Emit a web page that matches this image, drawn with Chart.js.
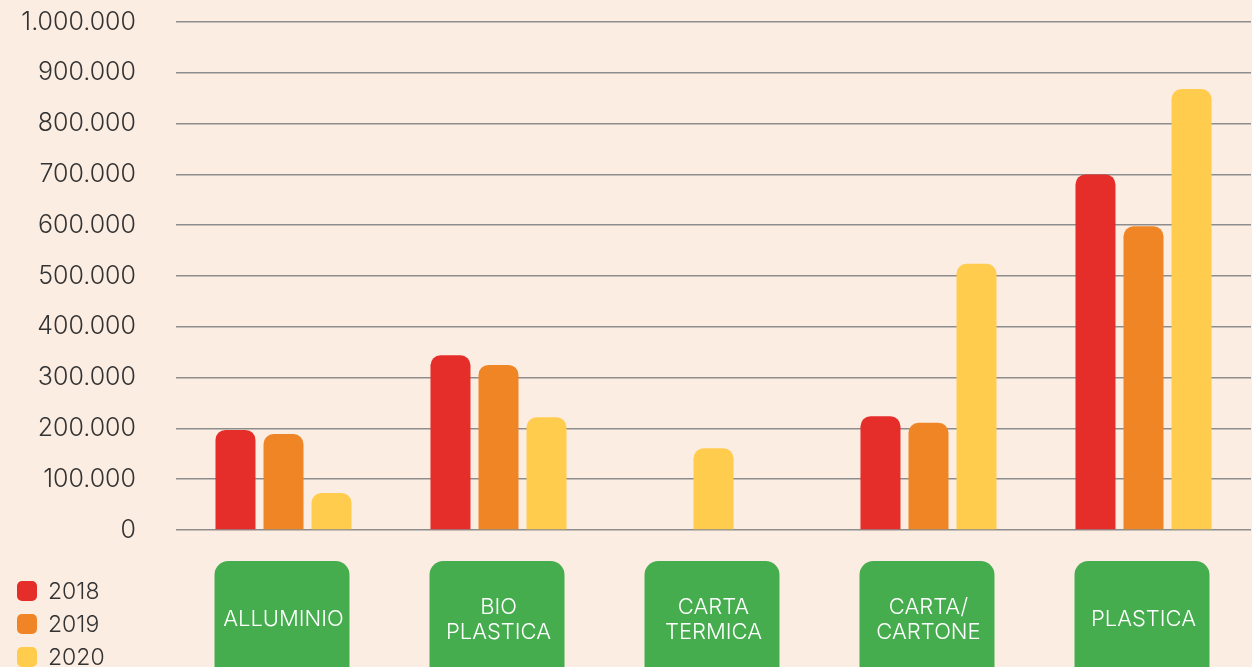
<!DOCTYPE html>
<html>
<head>
<meta charset="utf-8">
<script src="https://cdn.jsdelivr.net/npm/chart.js@4"></script>
<style>
body { margin: 0; background: #fcede3; }
#wrap { position: relative; width: 1252px; height: 667px; }
#legend { position: absolute; left: 17px; top: 574px; font-family: Inter, sans-serif; font-size: 23px; font-weight: 300; color: #333; }
.item { display: flex; align-items: center; height: 33px; }
.sw { width: 20px; height: 20px; border-radius: 5px; margin-right: 11px; }
</style>
</head>
<body>
<div id="wrap">
  <canvas id="bar-chart"></canvas>
  <div id="legend"></div>
</div>
<script>
//data
var categories = [['ALLUMINIO'], ['BIO', 'PLASTICA'], ['CARTA', 'TERMICA'], ['CARTA/', 'CARTONE'], ['PLASTICA']];
var years = ['2018', '2019', '2020'];
var values2018 = [197000, 344000, null, 224000, 700000];
var values2019 = [189000, 325000, null, 211000, 598000];
var values2020 = [73000, 222000, 161000, 524000, 868000];
var colors = ['#e52d2a', '#f08526', '#ffcc4d'];

var font = 'Inter, sans-serif';

//thousands with dots
function fmt(v) {
    return String(v).replace(/\B(?=(\d{3})+(?!\d))/g, '.');
}

//green boxes behind category labels
var labelBoxes = {
    id: 'labelBoxes',
    beforeDraw: function(chart) {
        var ctx = chart.ctx;
        var x = chart.scales.x;
        ctx.save();
        ctx.fillStyle = '#46ad4e';
        x.ticks.forEach(function(t, i) {
            var cx = x.getPixelForTick(i);
            ctx.beginPath();
            ctx.roundRect(cx - 69, chart.chartArea.bottom + 31, 135, 200, 14);
            ctx.fill();
        });
        ctx.restore();
    }
};

var ctx = document.getElementById('bar-chart');

var myChart = new Chart(ctx, {
    type: 'bar',
    data: {
        labels: categories,
        datasets: [values2018, values2019, values2020].map(function(d, i) {
            return {
                label: years[i],
                data: d,
                backgroundColor: colors[i],
                borderRadius: 10,
                skipNull: true,
                maxBarThickness: 40
            };
        })
    },
    options: {
        responsive: true,
        maintainAspectRatio: false,
        animation: false,
        categoryPercentage: 0.67,
        barPercentage: 0.84,
        layout: { padding: { top: 22, right: 1, bottom: 0, left: 0 } },
        plugins: {
            legend: { display: false },
            tooltip: { enabled: false }
        },
        scales: {
            y: {
                min: 0,
                max: 1000000,
                border: { display: false },
                grid: { color: '#8d8d8d', lineWidth: 1.5, drawTicks: false },
                ticks: {
                    stepSize: 100000,
                    padding: 40,
                    color: '#333',
                    font: { family: font, size: 25, weight: 300 },
                    callback: function(v) { return fmt(v); }
                },
                afterFit: function(s) {
                    s.width = 176;
                    s.paddingTop = 0;
                    s.paddingBottom = 0;
                }
            },
            x: {
                border: { display: false },
                grid: { display: false, drawTicks: false },
                ticks: {
                    padding: 77,
                    color: '#fff',
                    crossAlign: 'center',
                    maxRotation: 0,
                    font: { family: font, size: 22, weight: 300, lineHeight: 1.15 }
                },
                afterFit: function(s) {
                    s.height = 137;
                    s.paddingLeft = 0;
                    s.paddingRight = 0;
                }
            }
        }
    },
    plugins: [labelBoxes]
});

//legend
var legend = document.getElementById('legend');
years.forEach(function(y, i) {
    legend.innerHTML += '<div class="item"><span class="sw" style="background:' + colors[i] + '"></span>' + y + '</div>';
});
</script>
</body>
</html>
